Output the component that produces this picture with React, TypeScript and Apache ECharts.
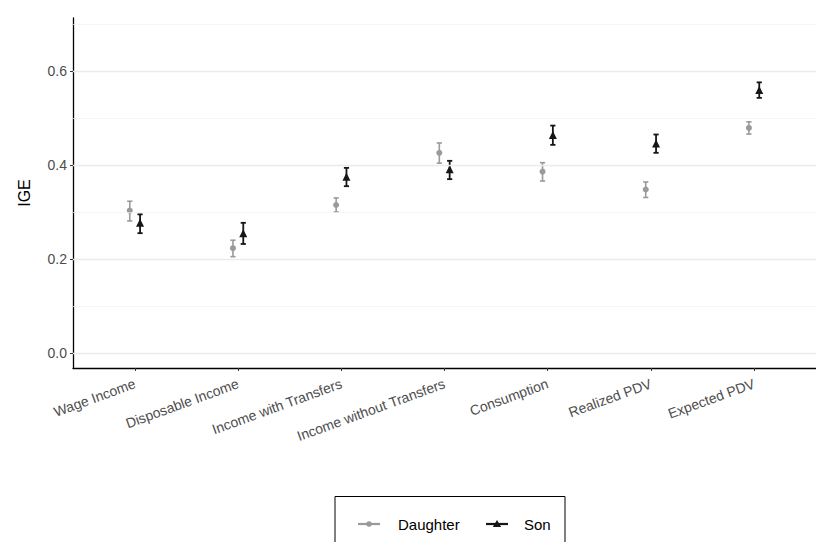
import React, { useEffect, useRef } from "react";
import * as echarts from "echarts";

const categories = [
  "Wage Income",
  "Disposable Income",
  "Income with Transfers",
  "Income without Transfers",
  "Consumption",
  "Realized PDV",
  "Expected PDV",
];
const daughterEst = [0.303, 0.223, 0.315, 0.426, 0.386, 0.348, 0.479];
const daughterLow = [0.281, 0.205, 0.300, 0.404, 0.366, 0.331, 0.466];
const daughterHigh = [0.323, 0.240, 0.330, 0.447, 0.405, 0.364, 0.492];
const sonEst = [0.277, 0.255, 0.375, 0.391, 0.464, 0.446, 0.560];
const sonLow = [0.255, 0.232, 0.355, 0.370, 0.443, 0.426, 0.543];
const sonHigh = [0.295, 0.277, 0.394, 0.409, 0.484, 0.465, 0.576];
const yTicks = [0, 0.2, 0.4, 0.6];
const yMinorTicks = [0.1, 0.3, 0.5, 0.7];
const legendNames = ["Daughter", "Son"];

const FONT = "'Liberation Sans', Arial, Helvetica, sans-serif";
const GREY = "#9a9a9a";
const BLACK = "#161616";
const DODGE = 0.05;

function errorBarSeries(name: string, offset: number, low: number[], high: number[], color: string, lw: number) {
  return {
    type: "custom",
    name: name + "-err",
    silent: true,
    z: 3,
    encode: { x: 0, y: [1, 2] },
    data: low.map((l, i) => [i + offset, l, high[i]]),
    renderItem: (params: any, api: any) => {
      const x = api.value(0);
      const p1 = api.coord([x, api.value(1)]);
      const p2 = api.coord([x, api.value(2)]);
      const w = 2.6;
      const style = { stroke: color, lineWidth: lw };
      return {
        type: "group",
        children: [
          { type: "line", shape: { x1: p1[0], y1: p1[1], x2: p2[0], y2: p2[1] }, style },
          { type: "line", shape: { x1: p1[0] - w, y1: p1[1], x2: p1[0] + w, y2: p1[1] }, style },
          { type: "line", shape: { x1: p2[0] - w, y1: p2[1], x2: p2[0] + w, y2: p2[1] }, style },
        ],
      };
    },
  };
}

const legendSeries = {
  type: "custom",
  name: "legend",
  coordinateSystem: "none",
  silent: true,
  z: 10,
  data: [[0]],
  renderItem: () => {
    const cy = 524;
    return {
      type: "group",
      children: [
        {
          type: "rect",
          shape: { x: 335, y: 496.5, width: 230, height: 70 },
          style: { fill: "#fff", stroke: "#000", lineWidth: 1 },
        },
        { type: "line", shape: { x1: 358, y1: cy, x2: 380, y2: cy }, style: { stroke: GREY, lineWidth: 2.2 } },
        { type: "circle", shape: { cx: 369, cy, r: 2.8 }, style: { fill: GREY } },
        {
          type: "text",
          x: 398,
          y: cy,
          style: { text: legendNames[0], fontSize: 15, fontFamily: FONT, fill: "#000", verticalAlign: "middle" },
        },
        { type: "line", shape: { x1: 486, y1: cy, x2: 508, y2: cy }, style: { stroke: BLACK, lineWidth: 2.2 } },
        {
          type: "polygon",
          shape: { points: [[497, cy - 4], [501.2, cy + 3], [492.8, cy + 3]] },
          style: { fill: BLACK },
        },
        {
          type: "text",
          x: 524,
          y: cy,
          style: { text: legendNames[1], fontSize: 15, fontFamily: FONT, fill: "#000", verticalAlign: "middle" },
        },
      ],
    };
  },
};

export default function App() {
  const ref = useRef<HTMLDivElement>(null);
  useEffect(() => {
    if (!ref.current) return;
    const chart = echarts.init(ref.current, null, { renderer: "svg" });
    const idx = categories.map((_, i) => i);
    const gridData = [
      ...yTicks.map((v) => ({ yAxis: v, lineStyle: { color: "#ebebeb", width: 1.3, type: "solid" } })),
      ...yMinorTicks.map((v) => ({ yAxis: v, lineStyle: { color: "#f2f2f2", width: 0.7, type: "solid" } })),
    ];
    chart.setOption({
      animation: false,
      textStyle: { fontFamily: FONT },
      grid: { left: 73, right: -8, top: 18, bottom: 174, containLabel: false },
      xAxis: {
        type: "value",
        min: -0.6,
        max: 6.6,
        splitLine: { show: false },
        axisLine: { show: true, onZero: false, lineStyle: { color: "#000", width: 1.3 } },
        axisTick: { show: true, length: 3, customValues: idx, lineStyle: { color: "#333", width: 1 } },
        axisLabel: {
          customValues: idx,
          formatter: (v: number) => categories[Math.round(v)] ?? "",
          rotate: 20,
          margin: 15,
          fontSize: 14,
          color: "#4d4d4d",
          fontFamily: FONT,
        },
      },
      yAxis: {
        type: "value",
        min: -0.032,
        max: 0.713,
        name: "IGE",
        nameLocation: "middle",
        nameGap: 41,
        nameRotate: 90,
        nameTextStyle: { fontSize: 16, color: "#000", fontFamily: FONT },
        splitLine: { show: false },
        axisLine: { show: true, onZero: false, lineStyle: { color: "#000", width: 1.3 } },
        axisTick: { show: true, length: 3, customValues: yTicks, lineStyle: { color: "#333", width: 1 } },
        axisLabel: {
          customValues: yTicks,
          formatter: (v: number) => v.toFixed(1),
          margin: 6,
          fontSize: 14,
          color: "#4d4d4d",
          fontFamily: FONT,
        },
      },
      series: [
        {
          type: "line",
          name: "grid",
          data: [],
          silent: true,
          z: 1,
          markLine: { silent: true, symbol: "none", label: { show: false }, data: gridData },
        },
        errorBarSeries("Daughter", -DODGE, daughterLow, daughterHigh, GREY, 1.6),
        errorBarSeries("Son", DODGE, sonLow, sonHigh, BLACK, 1.8),
        {
          type: "scatter",
          name: "Daughter",
          symbol: "circle",
          symbolSize: 6,
          z: 4,
          itemStyle: { color: GREY, opacity: 1 },
          data: daughterEst.map((v, i) => [i - DODGE, v]),
        },
        {
          type: "scatter",
          name: "Son",
          symbol: "triangle",
          symbolSize: 8,
          z: 4,
          itemStyle: { color: BLACK, opacity: 1 },
          data: sonEst.map((v, i) => [i + DODGE, v]),
        },
        legendSeries,
      ],
    });
    return () => chart.dispose();
  }, []);
  return (
    <div
      ref={ref}
      style={{ position: "fixed", left: 0, top: 0, width: 816, height: 542, background: "#fff" }}
    />
  );
}
